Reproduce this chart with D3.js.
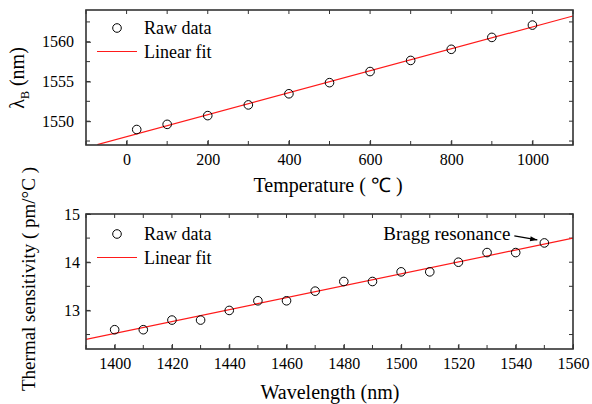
<!DOCTYPE html>
<html>
<head>
<meta charset="utf-8">
<script src="https://cdn.jsdelivr.net/npm/d3@7"></script>
<style>
  body { margin: 0; background: #fff; }
</style>
</head>
<body>
<svg id="chart" width="592" height="404" font-family="Liberation Serif"></svg>
<script>
// top panel data: Bragg wavelength vs temperature
var tempC = [25, 100, 200, 300, 400, 500, 600, 700, 800, 900, 1000];
var lambdaB = [1548.95, 1549.6, 1550.7, 1552.05, 1553.45, 1554.85, 1556.25, 1557.65, 1559.05, 1560.55, 1562.1];
var tempFitX = [-72, 1100];
var tempFitY = [1547.05, 1563.25];
var tempTicks = [0, 200, 400, 600, 800, 1000];
var lambdaTicks = [1550, 1555, 1560];

// bottom panel data: thermal sensitivity vs wavelength
var wavelength = [1400, 1410, 1420, 1430, 1440, 1450, 1460, 1470, 1480, 1490, 1500, 1510, 1520, 1530, 1540, 1550];
var sensitivity = [12.6, 12.6, 12.8, 12.8, 13.0, 13.2, 13.2, 13.4, 13.6, 13.6, 13.8, 13.8, 14.0, 14.2, 14.2, 14.4];
var waveFitX = [1390, 1560];
var waveFitY = [12.4, 14.5];
var waveTicks = [1400, 1420, 1440, 1460, 1480, 1500, 1520, 1540, 1560];
var sensTicks = [13, 14, 15];

var legendNames = ["Raw data", "Linear fit"];

var svg = d3.select("#chart");
var left = 86, right = 573;

function minorRange(a, b, step) {
  var out = [];
  for (var v = a; v <= b + 1e-9; v += step) out.push(+v.toFixed(4));
  return out;
}

function panel(opt) {
  var g = svg.append("g").attr("transform", "translate(" + left + "," + opt.top + ")");
  var w = right - left, h = opt.height;
  var x = d3.scaleLinear().domain(opt.xDomain).range([0, w]);
  var y = d3.scaleLinear().domain(opt.yDomain).range([h, 0]);

  // minor ticks (all four sides, inward)
  var xm = minorRange(opt.xMinor[0], opt.xMinor[1], opt.xMinor[2]);
  var ym = minorRange(opt.yMinor[0], opt.yMinor[1], opt.yMinor[2]);
  var ticks = g.append("g").attr("stroke", "#333").attr("stroke-width", 1);
  xm.forEach(function(v) {
    ticks.append("line").attr("x1", x(v)).attr("x2", x(v)).attr("y1", h).attr("y2", h - 4);
    ticks.append("line").attr("x1", x(v)).attr("x2", x(v)).attr("y1", 0).attr("y2", 4);
  });
  ym.forEach(function(v) {
    ticks.append("line").attr("x1", 0).attr("x2", 4).attr("y1", y(v)).attr("y2", y(v));
    ticks.append("line").attr("x1", w).attr("x2", w - 4).attr("y1", y(v)).attr("y2", y(v));
  });

  // axes with labels
  var xa = g.append("g").attr("transform", "translate(0," + h + ")")
    .call(d3.axisBottom(x).tickValues(opt.xTicks).tickSizeInner(-5).tickSizeOuter(0).tickPadding(9).tickFormat(d3.format("d")));
  var ya = g.append("g")
    .call(d3.axisLeft(y).tickValues(opt.yTicks).tickSizeInner(-5).tickSizeOuter(0).tickPadding(opt.yPad).tickFormat(d3.format("d")));
  [xa, ya].forEach(function(a) {
    a.attr("font-family", "Liberation Serif").attr("font-size", 16);
    a.select(".domain").remove();
    a.selectAll("line").attr("stroke", "#333");
    a.selectAll("text").attr("fill", "#000");
  });

  // fit line, clipped to frame
  var clipId = "clip" + opt.top;
  g.append("clipPath").attr("id", clipId).append("rect").attr("width", w).attr("height", h);
  g.append("path")
    .datum(d3.zip(opt.fitX, opt.fitY))
    .attr("clip-path", "url(#" + clipId + ")")
    .attr("fill", "none").attr("stroke", "#ff1a1a").attr("stroke-width", 1.2)
    .attr("d", d3.line().x(function(d) { return x(d[0]); }).y(function(d) { return y(d[1]); }));

  // raw points
  g.append("g").selectAll("circle")
    .data(d3.zip(opt.xs, opt.ys))
    .enter().append("circle")
      .attr("cx", function(d) { return x(d[0]); })
      .attr("cy", function(d) { return y(d[1]); })
      .attr("r", 4.3)
      .attr("fill", "none").attr("stroke", "#000").attr("stroke-width", 1);

  // frame
  g.append("rect").attr("width", w).attr("height", h)
    .attr("fill", "none").attr("stroke", "#333").attr("stroke-width", 1.6);

  // legend
  var lg = g.append("g");
  lg.append("circle").attr("cx", 31).attr("cy", opt.legY).attr("r", 4.3)
    .attr("fill", "none").attr("stroke", "#000");
  lg.append("line").attr("x1", 11).attr("x2", 51).attr("y1", opt.legY + 23.5).attr("y2", opt.legY + 23.5)
    .attr("stroke", "#ff1a1a").attr("stroke-width", 1.2);
  lg.selectAll("text").data(legendNames).enter().append("text")
    .attr("x", 58).attr("y", function(d, i) { return opt.legY + 6 + i * 23.5; })
    .attr("font-size", 18)
    .text(function(d) { return d; });

  return {g: g, x: x, y: y, w: w, h: h};
}

var top1 = panel({
  top: 10, height: 135,
  xDomain: [-100, 1100], yDomain: [1547, 1564],
  xTicks: tempTicks, yTicks: lambdaTicks,
  xMinor: [-100, 1100, 100], yMinor: [1547.5, 1562.5, 2.5],
  xs: tempC, ys: lambdaB, fitX: tempFitX, fitY: tempFitY,
  legY: 18, yPad: 12
});

var bot = panel({
  top: 214, height: 135,
  xDomain: [1390, 1560], yDomain: [12.2, 15],
  xTicks: waveTicks, yTicks: sensTicks,
  xMinor: [1390, 1560, 10], yMinor: [12.5, 15, 0.5],
  xs: wavelength, ys: sensitivity, fitX: waveFitX, fitY: waveFitY,
  legY: 20, yPad: 6
});

// axis titles
svg.append("text").attr("x", 328).attr("y", 192).attr("text-anchor", "middle")
  .attr("font-size", 20).text("Temperature ( \u2103 )");
svg.append("text").attr("x", 330).attr("y", 399).attr("text-anchor", "middle")
  .attr("font-size", 20).text("Wavelength (nm)");

var lt = svg.append("text").attr("transform", "translate(24,78) rotate(-90)")
  .attr("text-anchor", "middle").attr("font-size", 20);
lt.append("tspan").text("\u03bb");
lt.append("tspan").attr("dy", 5).attr("font-size", 12).text("B");
lt.append("tspan").attr("dy", -5).text(" (nm)");

svg.append("text").attr("transform", "translate(35,279) rotate(-90)")
  .attr("text-anchor", "middle").attr("font-size", 19)
  .text("Thermal sensitivity ( pm/\u00b0C )");

// annotation for the last point
var lastX = bot.x(wavelength[wavelength.length - 1]), lastY = bot.y(sensitivity[sensitivity.length - 1]);
svg.append("defs").append("marker").attr("id", "arr")
  .attr("viewBox", "0 0 10 10").attr("refX", 10).attr("refY", 5)
  .attr("markerWidth", 9).attr("markerHeight", 6).attr("orient", "auto")
  .append("path").attr("d", "M0,1.5 L10,5 L0,8.5 Z").attr("fill", "#000");
bot.g.append("text").attr("x", lastX - 34).attr("y", lastY - 3).attr("text-anchor", "end")
  .attr("font-size", 19).text("Bragg resonance");
bot.g.append("line")
  .attr("x1", lastX - 30).attr("y1", lastY - 7)
  .attr("x2", lastX - 7).attr("y2", lastY - 3)
  .attr("stroke", "#000").attr("stroke-width", 1.2).attr("marker-end", "url(#arr)");
</script>
</body>
</html>
